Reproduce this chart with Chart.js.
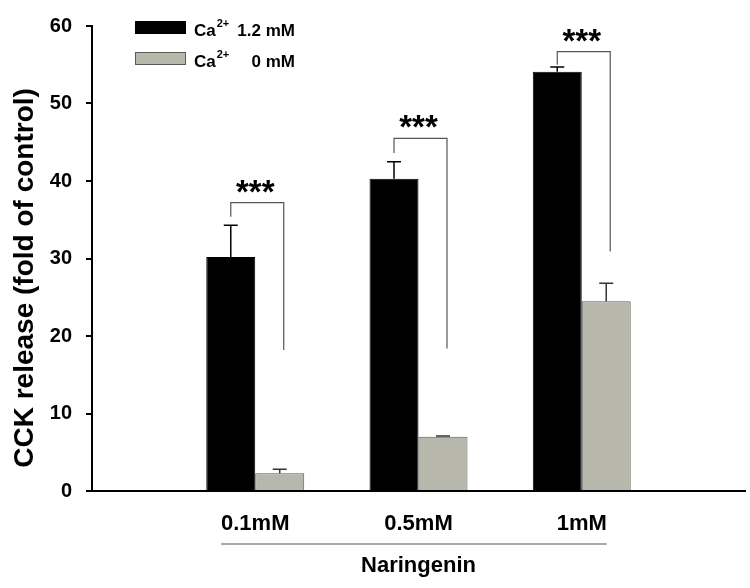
<!DOCTYPE html>
<html>
<head>
<meta charset="utf-8">
<script src="https://cdn.jsdelivr.net/npm/chart.js@4"></script>
<style>
  html, body { margin: 0; padding: 0; background: #fff; }
</style>
</head>
<body>
<canvas id="chart" width="750" height="588"></canvas>
<script>
// naringenin doses
const doses = ['0.1mM', '0.5mM', '1mM'];
// Ca2+ 1.2 mM
const caHigh = [30.2, 40.3, 54.1];
const caHighErr = [4.1, 2.2, 0.6];
// Ca2+ 0 mM
const caZero = [2.3, 7.0, 24.5];
const caZeroErr = [0.5, 0.1, 2.3];
const yTicks = [0, 10, 20, 30, 40, 50, 60];
// significance brackets, in y units
const bracketTop = [37.2, 45.5, 56.7];
const bracketLeftFrom = [35.4, 43.6, 55.0];
const bracketRightTo = [18.2, 18.4, 30.9];
const sigMarks = ['***', '***', '***'];
// legend text
const legendConc = ['1.2 mM', '0 mM'];

const FONT = "'Liberation Sans', Arial, sans-serif";

// empty slot on each side so the groups sit like the original
const labels = [''].concat(doses, ['']);
function pad(arr) { return [null].concat(arr, [null]); }

const errors = [pad(caHighErr), pad(caZeroErr)];

const extras = {
  id: 'extras',
  afterDatasetsDraw(chart) {
    const ctx = chart.ctx;
    const y = chart.scales.y;
    const x = chart.scales.x;
    ctx.save();
    // error bars (up only)
    chart.data.datasets.forEach(function (ds, di) {
      const meta = chart.getDatasetMeta(di);
      meta.data.forEach(function (bar, i) {
        if (ds.data[i] == null) return;
        const top = y.getPixelForValue(ds.data[i] + errors[di][i]);
        ctx.strokeStyle = di == 0 ? '#000' : '#333';
        ctx.lineWidth = 1.5;
        ctx.beginPath();
        ctx.moveTo(bar.x, bar.y);
        ctx.lineTo(bar.x, top);
        ctx.moveTo(bar.x - 7, top);
        ctx.lineTo(bar.x + 7, top);
        ctx.stroke();
      });
    });
    // brackets and stars
    const m0 = chart.getDatasetMeta(0);
    const m1 = chart.getDatasetMeta(1);
    for (let i = 0; i < doses.length; i++) {
      const xl = m0.data[i + 1].x;
      const xr = m1.data[i + 1].x + 4;
      const yt = y.getPixelForValue(bracketTop[i]);
      ctx.strokeStyle = '#555';
      ctx.lineWidth = 1.2;
      ctx.beginPath();
      ctx.moveTo(xl, y.getPixelForValue(bracketLeftFrom[i]));
      ctx.lineTo(xl, yt);
      ctx.lineTo(xr, yt);
      ctx.lineTo(xr, y.getPixelForValue(bracketRightTo[i]));
      ctx.stroke();
      ctx.fillStyle = '#000';
      ctx.font = 'bold 33px ' + FONT;
      ctx.textAlign = 'center';
      ctx.textBaseline = 'alphabetic';
      ctx.fillText(sigMarks[i], x.getPixelForValue(i + 1), yt);
    }
    ctx.restore();
  },
  afterDraw(chart) {
    const ctx = chart.ctx;
    const x = chart.scales.x;
    ctx.save();
    // line under the dose labels
    ctx.font = 'bold 22px ' + FONT;
    const x0 = x.getPixelForValue(1) - ctx.measureText(doses[0]).width / 2;
    const x1 = x.getPixelForValue(doses.length) + ctx.measureText(doses[doses.length - 1]).width / 2;
    ctx.strokeStyle = '#555';
    ctx.lineWidth = 1.2;
    ctx.beginPath();
    ctx.moveTo(x0, 544);
    ctx.lineTo(x1, 544);
    ctx.stroke();
    // legend
    chart.data.datasets.forEach(function (ds, di) {
      const top = 21 + di * 31;
      ctx.fillStyle = ds.backgroundColor;
      ctx.fillRect(135, top, 51, 13);
      ctx.strokeStyle = ds.borderColor;
      ctx.lineWidth = 1;
      ctx.strokeRect(135.5, top + 0.5, 50, 12);
      ctx.fillStyle = '#000';
      ctx.textBaseline = 'alphabetic';
      ctx.textAlign = 'left';
      ctx.font = 'bold 17px ' + FONT;
      ctx.fillText('Ca', 194, top + 15);
      const w = ctx.measureText('Ca').width;
      ctx.font = 'bold 11px ' + FONT;
      ctx.fillText('2+', 194 + w + 1, top + 6);
      ctx.font = 'bold 17px ' + FONT;
      ctx.textAlign = 'right';
      ctx.fillText(legendConc[di], 295, top + 15);
    });
    ctx.restore();
  }
};

new Chart(document.getElementById('chart'), {
  type: 'bar',
  data: {
    labels: labels,
    datasets: [
      {
        label: 'Ca2+ 1.2 mM',
        data: pad(caHigh),
        backgroundColor: '#000000',
        borderColor: '#000000',
        borderWidth: 1
      },
      {
        label: 'Ca2+ 0 mM',
        data: pad(caZero),
        backgroundColor: '#b7b7ab',
        borderColor: '#5a5a55',
        borderWidth: 1
      }
    ]
  },
  options: {
    responsive: false,
    animation: false,
    devicePixelRatio: 1,
    categoryPercentage: 0.6,
    barPercentage: 1.0,
    layout: { padding: { top: 20, right: 5, left: 0, bottom: 0 } },
    plugins: {
      legend: { display: false },
      tooltip: { enabled: false }
    },
    scales: {
      x: {
        type: 'category',
        offset: false,
        // ticks hidden, tickLength only pushes the labels down
        grid: { display: false, drawTicks: true, tickLength: 20 },
        border: { display: true, color: '#000', width: 2 },
        ticks: {
          color: '#000',
          autoSkip: false,
          maxRotation: 0,
          padding: 0,
          font: { family: FONT, size: 22, weight: 'bold' }
        },
        title: {
          display: true,
          text: 'Naringenin',
          color: '#000',
          font: { family: FONT, size: 22, weight: 'bold' },
          padding: { top: 0, bottom: 9 }
        },
        afterFit: function (s) { s.height = 97; }
      },
      y: {
        min: 0,
        max: 60,
        afterBuildTicks: function (s) { s.ticks = yTicks.map(v => ({ value: v })); },
        grid: { drawOnChartArea: false, drawTicks: true, tickLength: 6, color: '#000', lineWidth: 2 },
        border: { display: true, color: '#000', width: 2 },
        ticks: {
          color: '#000',
          padding: 14,
          font: { family: FONT, size: 20, weight: 'bold' }
        },
        title: {
          display: true,
          text: 'CCK release (fold of control)     ',
          color: '#000',
          font: { family: FONT, size: 28, weight: 'bold' },
          padding: { top: 8, bottom: 0 }
        },
        afterFit: function (s) { s.width = 92; }
      }
    }
  },
  plugins: [extras]
});
</script>
</body>
</html>
